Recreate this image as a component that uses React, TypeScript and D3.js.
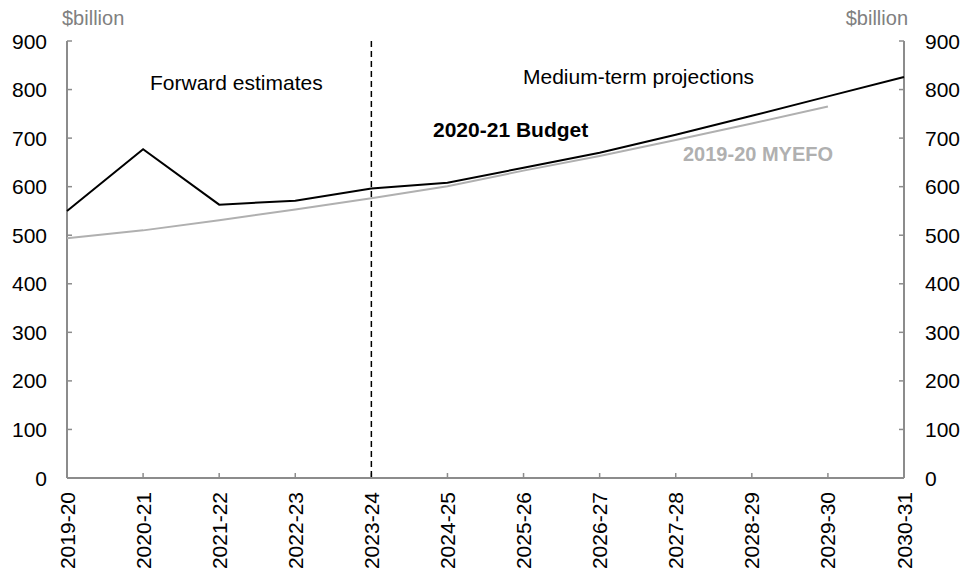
import React from "react";
import * as d3 from "d3";

const categories = ["2019-20","2020-21","2021-22","2022-23","2023-24","2024-25","2025-26","2026-27","2027-28","2028-29","2029-30","2030-31"];
const budget = [550, 677, 563, 571, 596, 608, 639, 670, 707, 746, 786, 826];
const myefo = [494, 510, 531, 553, 576, 601, 633, 663, 696, 730, 765];
const yTicks = [0, 100, 200, 300, 400, 500, 600, 700, 800, 900];

const W = 965, H = 574;
const left = 67, right = 904, top = 41, bottom = 478;
const FONT = "'Liberation Sans', Arial, sans-serif";
const AXIS = "#8c8c8c";

export default function App() {
  const x = d3.scalePoint<string>().domain(categories).range([left, right]);
  const y = d3.scaleLinear().domain([0, 900]).range([bottom, top]);
  const line = d3.line<number>().x((_, i) => x(categories[i])!).y(d => y(d));
  const divider = x("2023-24")!;
  return (
    <svg width={W} height={H} style={{ position: "absolute", left: 0, top: 0 }} fontFamily={FONT}>
      <rect width={W} height={H} fill="#fff" />
      {/* axes */}
      <line x1={left} x2={left} y1={top} y2={bottom} stroke={AXIS} strokeWidth={2} />
      <line x1={right} x2={right} y1={top} y2={bottom} stroke={AXIS} strokeWidth={2} />
      <line x1={left} x2={right} y1={bottom} y2={bottom} stroke={AXIS} strokeWidth={2} />
      {yTicks.map(t => (
        <g key={t}>
          <line x1={left} x2={left + 5} y1={y(t)} y2={y(t)} stroke={AXIS} strokeWidth={1.5} />
          <line x1={right - 5} x2={right} y1={y(t)} y2={y(t)} stroke={AXIS} strokeWidth={1.5} />
          <text x={47} y={y(t)} textAnchor="end" dominantBaseline="central" fontSize={21} fill="#000">{t}</text>
          <text x={925} y={y(t)} textAnchor="start" dominantBaseline="central" fontSize={21} fill="#000">{t}</text>
        </g>
      ))}
      {categories.map(c => (
        <g key={c}>
          <line x1={x(c)} x2={x(c)} y1={bottom} y2={bottom - 5} stroke={AXIS} strokeWidth={1.5} />
          <text transform={`translate(${x(c)! + 7.5},${492}) rotate(-90)`} textAnchor="end" fontSize={21} fill="#000">{c}</text>
        </g>
      ))}
      <text x={62} y={25} fontSize={20} fill="#808080">$billion</text>
      <text x={908} y={25} textAnchor="end" fontSize={20} fill="#808080">$billion</text>
      {/* divider */}
      <line x1={divider} x2={divider} y1={top} y2={bottom} stroke="#000" strokeWidth={1.5} strokeDasharray="6,4" />
      {/* series */}
      <path d={line(myefo)!} fill="none" stroke="#b0b0b0" strokeWidth={2} />
      <path d={line(budget)!} fill="none" stroke="#000" strokeWidth={2} />
      {/* annotations */}
      <text x={150} y={90} fontSize={21} fill="#000">Forward estimates</text>
      <text x={523} y={84} fontSize={21} fill="#000">Medium-term projections</text>
      <text x={433} y={137} fontSize={21} fontWeight="bold" fill="#000">2020-21 Budget</text>
      <text x={683} y={161} fontSize={20} fontWeight="bold" fill="#b0b0b0">2019-20 MYEFO</text>
    </svg>
  );
}
